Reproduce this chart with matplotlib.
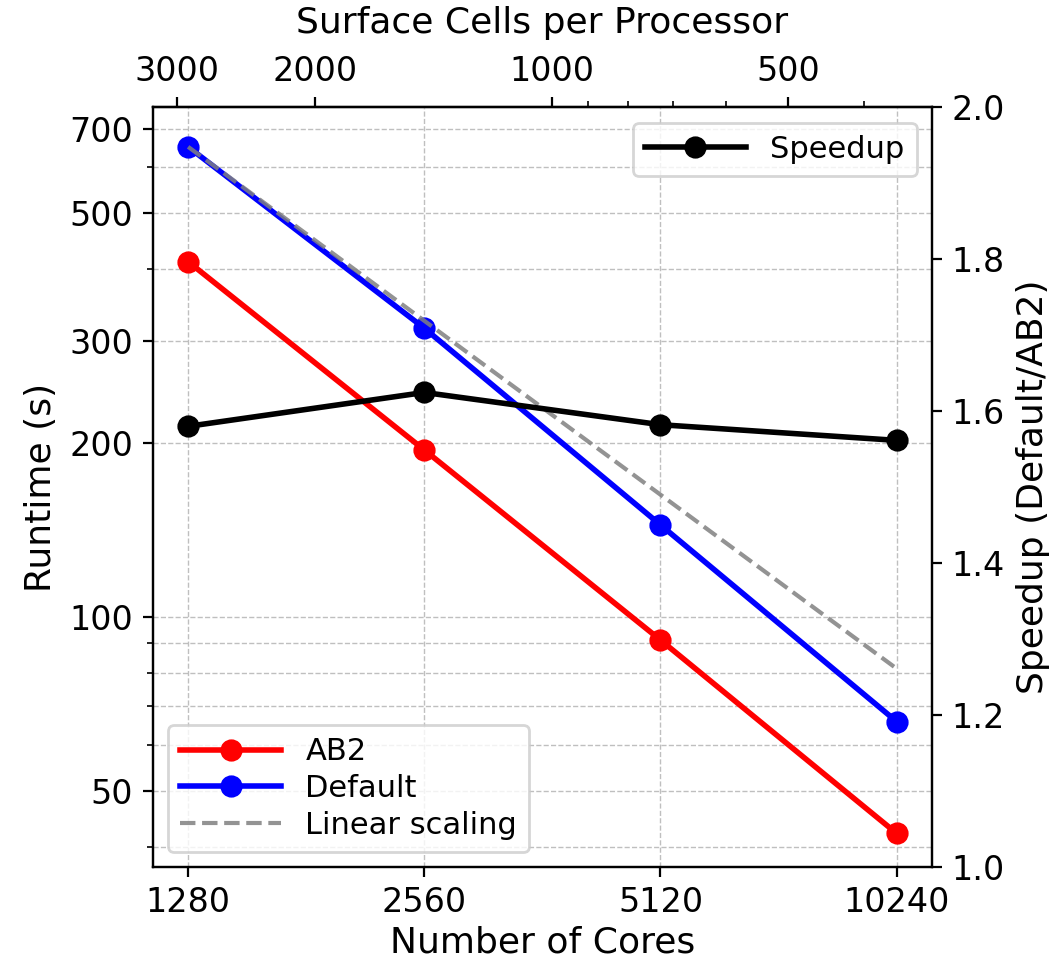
import numpy as np
import matplotlib
matplotlib.use("Agg")
import matplotlib.pyplot as plt
from matplotlib.ticker import ScalarFormatter, NullFormatter

# strong scaling runs
cores = np.array([1280, 2560, 5120, 10240])
runtime_ab2 = np.array([412.0, 194.5, 91.2, 42.2])
runtime_default = np.array([651.0, 316.0, 144.3, 65.9])
total_cells = 3.72e6

speedup = runtime_default / runtime_ab2
linear = runtime_default[0] * cores[0] / cores

fig, ax = plt.subplots(figsize=(5.255, 4.805), dpi=200)
plt.subplots_adjust(left=0.1453, right=0.8868, bottom=0.0978, top=0.8883)

ax.plot(cores, runtime_ab2, color='red', marker='o', lw=2, ms=7, label='AB2')
ax.plot(cores, runtime_default, color='blue', marker='o', lw=2, ms=7, label='Default')
ax.plot(cores, linear, color='gray', ls='--', lw=1.5, alpha=0.85, label='Linear scaling')

ax.set_xscale('log', base=2)
ax.set_yscale('log')
ax.set_xticks(cores)
ax.xaxis.set_major_formatter(ScalarFormatter())
ax.set_yticks([50, 100, 200, 300, 500, 700])
ax.yaxis.set_major_formatter(ScalarFormatter())
ax.yaxis.set_minor_formatter(NullFormatter())
ax.set_ylim(36.9, 762)
ax.tick_params(labelsize=12)
ax.set_xlabel('Number of Cores', fontsize=13, labelpad=2)
ax.set_ylabel('Runtime (s)', fontsize=13)
ax.grid(True, which='both', ls='--', lw=0.5, color='#b0b0b0', alpha=0.8)
ax.legend(loc='lower left', fontsize=11, handlelength=3.3, labelspacing=0.25)

# cells per processor on the top axis
top = ax.secondary_xaxis('top', functions=(lambda x: total_cells / x,
                                           lambda x: total_cells / x))
top.set_xticks([3000, 2000, 1000, 500])
top.xaxis.set_major_formatter(ScalarFormatter())
top.xaxis.set_minor_formatter(NullFormatter())
top.tick_params(labelsize=12)
top.set_xlabel('Surface Cells per Processor', fontsize=13, labelpad=8)

ax2 = ax.twinx()
ax2.plot(cores, speedup, color='black', marker='o', lw=2, ms=7, label='Speedup')
ax2.set_ylim(1.0, 2.0)
ax2.set_yticks([1.0, 1.2, 1.4, 1.6, 1.8, 2.0])
ax2.tick_params(labelsize=12)
ax2.set_ylabel('Speedup (Default/AB2)', fontsize=13)
ax2.legend(loc='upper right', fontsize=11, handlelength=3.3)

plt.savefig('out.png', dpi=200)
